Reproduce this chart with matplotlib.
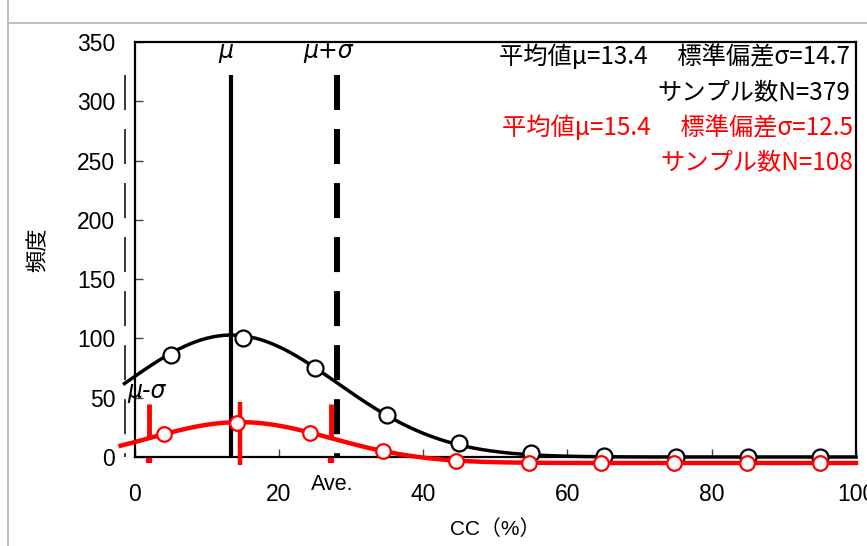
import numpy as np
import matplotlib
matplotlib.use("Agg")
import matplotlib.pyplot as plt
from matplotlib.lines import Line2D

# ---------- data ----------
bin_centers = [5, 15, 25, 35, 45, 55, 65, 75, 85, 95]
black_counts = [86.0, 100.6, 74.8, 35.4, 11.6, 3.1, 0.5, 0, 0, 0]
red_counts = [24.5, 33.5, 25.6, 10.4, 2.0, 0, 0, 0, 0, 0]

black_mu, black_sd, black_n = 13.4, 14.7, 379
red_mu, red_sd, red_n = 15.4, 12.5, 108
bin_width = 10

xticks = [0, 20, 40, 60, 80, 100]
yticks = [0, 50, 100, 150, 200, 250, 300, 350]

CJK = ["Noto Sans CJK JP", "DejaVu Sans"]
TICK = ["Liberation Sans", "DejaVu Sans"]
LABEL = ["Liberation Sans", "Noto Sans CJK JP"]


def normal_fit(x, mu, sd, n):
    return n * bin_width / (sd * np.sqrt(2 * np.pi)) * np.exp(-(x - mu) ** 2 / (2 * sd ** 2))


fig = plt.figure(figsize=(8.67, 5.46), dpi=100)

# screenshot frame
fig.add_artist(Line2D([8 / 867, 8 / 867], [0, 1], color="#b5b5b5", lw=1.2))
fig.add_artist(Line2D([8 / 867, 1], [1 - 23 / 546, 1 - 23 / 546], color="#b5b5b5", lw=1.2))

rect = [134.6 / 867, 89 / 546, 721.4 / 867, 415 / 546]
ax = fig.add_axes(rect)
ax.set_xlim(0, 100)
ax.set_ylim(0, 350)
ax.set_xticks(xticks)
ax.set_yticks(yticks)
ax.set_xticklabels([str(t) for t in xticks], family=TICK, fontsize=16.5)
ax.set_yticklabels([str(t) for t in yticks], family=TICK, fontsize=16.5)
ax.tick_params(axis="both", direction="in", length=6, width=1, color="#444444")
ax.tick_params(axis="x", pad=19)
ax.tick_params(axis="y", pad=14)
for s in ax.spines.values():
    s.set_linewidth(1.6)

ax.set_ylabel("頻度", family=CJK, fontsize=16)
ax.yaxis.set_label_coords(-0.118, 0.5)
ax.set_xlabel("CC（%）", family=LABEL, fontsize=15)
ax.xaxis.set_label_coords(0.5, -0.15)

# black series
xb = np.linspace(-1.4, 100, 400)
ax.plot(xb, normal_fit(xb, black_mu, black_sd, black_n), color="black", lw=2.5,
        clip_on=False, zorder=3)
ax.plot([black_mu, black_mu], [-1, 322], color="black", lw=3.0, clip_on=False,
        solid_capstyle="butt", zorder=2)
dash_pt = (25.2, 13.7)
ax.plot([black_mu + black_sd] * 2, [322, 0], color="black", lw=4.3,
        dashes=(dash_pt[0] / 4.3, dash_pt[1] / 4.3), zorder=2)
ax.plot([black_mu - black_sd] * 2, [322, 0], color="black", lw=1.1,
        dashes=(dash_pt[0] / 1.1, dash_pt[1] / 1.1), clip_on=False, zorder=2)
ax.plot(bin_centers, black_counts, linestyle="none", marker="o", ms=11.5,
        mfc="white", mec="black", mew=1.6, clip_on=False, zorder=4)

ax.text(black_mu - 0.8, 336.5, "μ", fontsize=17, style="italic", ha="center", va="baseline")
ax.text(26.8, 336.5, "μ+σ", fontsize=17, style="italic", ha="center", va="baseline")
ax.text(1.6, 49.8, "μ-σ", fontsize=17, style="italic", ha="center", va="baseline")
ax.text(27.4, -23.6, "Ave.", family=TICK, fontsize=15.5, ha="center", va="center")

ax.text(0.992, 0.964, "平均値μ=13.4　 標準偏差σ=14.7", transform=ax.transAxes,
        family=CJK, fontsize=17.5, ha="right", va="center")
ax.text(0.992, 0.877, "サンプル数N=379", transform=ax.transAxes,
        family=CJK, fontsize=17.5, ha="right", va="center")
ax.text(0.996, 0.793, "平均値μ=15.4　 標準偏差σ=12.5", transform=ax.transAxes,
        family=CJK, fontsize=17.5, ha="right", va="center", color="red")
ax.text(0.996, 0.708, "サンプル数N=108", transform=ax.transAxes,
        family=CJK, fontsize=17.5, ha="right", va="center", color="red")

# red series, drawn on its own slightly shifted axes
ax2 = fig.add_axes(rect)
ax2.set_xlim(0.92, 99.93)
ax2.set_ylim(5.06, 355.06)
ax2.axis("off")
ax2.patch.set_alpha(0)

xr = np.linspace(-1.0, 99.93, 400)
ax2.plot(xr, normal_fit(xr, red_mu, red_sd, red_n), color="red", lw=3.2,
         clip_on=False, zorder=3)
for xv in (red_mu - red_sd, red_mu + red_sd):
    ax2.plot([xv, xv], [49.7, normal_fit(xv, red_mu, red_sd, red_n)], color="red",
             lw=3.5, solid_capstyle="butt", clip_on=False, zorder=2)
    ax2.plot([xv, xv], [0, 4.2], color="red", lw=4.5, solid_capstyle="butt",
             clip_on=False, zorder=2)
ax2.plot([red_mu, red_mu], [-1.7, 51.4], color="red", lw=3.2, solid_capstyle="butt",
         clip_on=False, zorder=2)
ax2.plot(bin_centers, red_counts, linestyle="none", marker="o", ms=10.5,
         mfc="white", mec="red", mew=1.6, clip_on=False, zorder=4)

fig.savefig("out.png", dpi=100)
